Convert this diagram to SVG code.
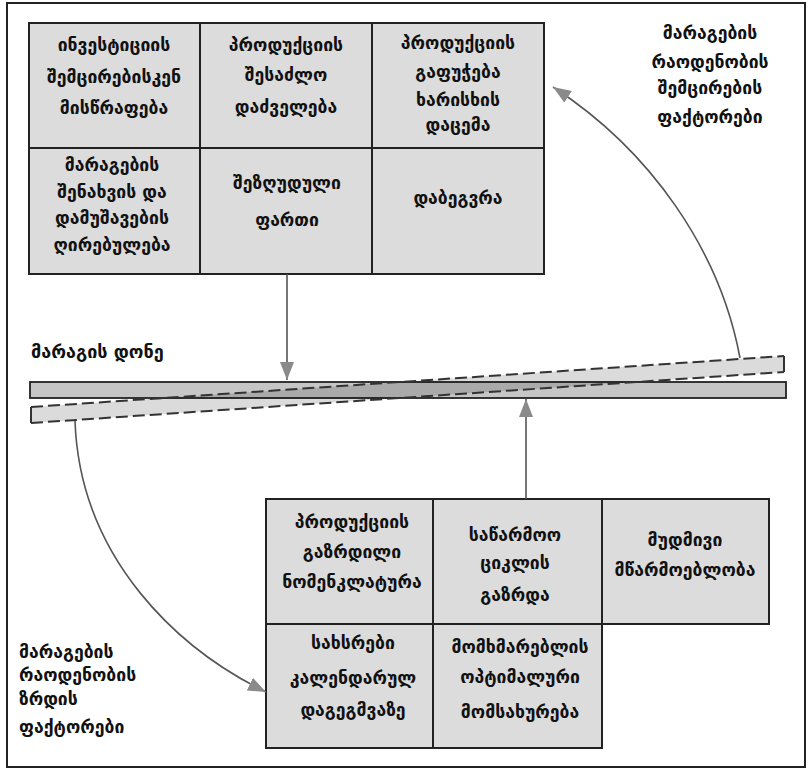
<svg xmlns="http://www.w3.org/2000/svg" width="808" height="770" viewBox="0 0 808 770">
<style>
text{font-family:"DejaVu Sans","Noto Sans",sans-serif;font-size:17.6px;font-weight:bold;fill:#111;}
.c{text-anchor:middle;}
.cell{fill:#dcdcdc;stroke:#222;stroke-width:2;}
.conn{fill:none;stroke:#555;stroke-width:1.6;}
.dash{fill:none;stroke:#333;stroke-width:2;stroke-dasharray:12 5;}
</style>
<defs>
<marker id="ah" markerUnits="userSpaceOnUse" markerWidth="20" markerHeight="16" refX="18" refY="7" orient="auto">
<path d="M0,0 L18,7 L0,14 Z" fill="#8a8a8a"/>
</marker>
</defs>
<rect x="7" y="3" width="798" height="764" fill="#fff" stroke="#222" stroke-width="2"/>

<g id="top-grid">
<g id="n1"><rect class="cell" x="29" y="23" width="171" height="125"/>
<text class="c" x="114" y="51">ინვესტიციის</text><text class="c" x="114" y="83">შემცირებისკენ</text><text class="c" x="114" y="114">მისწრაფება</text></g>
<g id="n2"><rect class="cell" x="200" y="23" width="172" height="125"/>
<text class="c" x="286" y="51">პროდუქციის</text><text class="c" x="286" y="81">შესაძლო</text><text class="c" x="286" y="113">დაძველება</text></g>
<g id="n3"><rect class="cell" x="372" y="23" width="172" height="125"/>
<text class="c" x="458" y="49">პროდუქციის</text><text class="c" x="458" y="78">გაფუჭება</text><text class="c" x="458" y="106">ხარისხის</text><text class="c" x="458" y="131">დაცემა</text></g>
<g id="n4"><rect class="cell" x="29" y="148" width="171" height="126"/>
<text class="c" x="112" y="171">მარაგების</text><text class="c" x="112" y="198">შენახვის და</text><text class="c" x="112" y="224">დამუშავების</text><text class="c" x="112" y="251">ღირებულება</text></g>
<g id="n5"><rect class="cell" x="200" y="148" width="172" height="126"/>
<text class="c" x="287" y="189">შეზღუდული</text><text class="c" x="287" y="226">ფართი</text></g>
<g id="n6"><rect class="cell" x="372" y="148" width="172" height="126"/>
<text class="c" x="458" y="204">დაბეგვრა</text></g>
</g>

<g id="bottom-grid">
<g id="m1"><rect class="cell" x="266" y="499" width="167" height="125"/>
<text class="c" x="352" y="528">პროდუქციის</text><text class="c" x="352" y="558">გაზრდილი</text><text class="c" x="352" y="588">ნომენკლატურა</text></g>
<g id="m2"><rect class="cell" x="433" y="499" width="169" height="125"/>
<text class="c" x="515" y="541">საწარმოო</text><text class="c" x="515" y="569">ციკლის</text><text class="c" x="515" y="601">გაზრდა</text></g>
<g id="m3"><rect class="cell" x="602" y="499" width="167" height="125"/>
<text class="c" x="685" y="546">მუდმივი</text><text class="c" x="685" y="576">მწარმოებლობა</text></g>
<g id="m4"><rect class="cell" x="266" y="624" width="167" height="124"/>
<text class="c" x="353" y="649">სახსრები</text><text class="c" x="353" y="684">კალენდარულ</text><text class="c" x="353" y="716">დაგეგმვაზე</text></g>
<g id="m5"><rect class="cell" x="433" y="624" width="169" height="124"/>
<text class="c" x="520" y="653">მომხმარებლის</text><text class="c" x="520" y="683">ოპტიმალური</text><text class="c" x="520" y="718">მომსახურება</text></g>
</g>

<g id="level">
<text x="31" y="358" style="font-size:18px">მარაგის დონე</text>
<rect x="30" y="382" width="756" height="16" fill="#c6c6c6" stroke="#222" stroke-width="1.8"/>
<polygon points="31,407 784,356 784,372 31,423" fill="#000" fill-opacity="0.14"/>
<line class="dash" x1="31" y1="407" x2="784" y2="356"/>
<line class="dash" x1="31" y1="423" x2="784" y2="372"/>
<line x1="31" y1="407" x2="31" y2="423" stroke="#333" stroke-width="2"/>
<line x1="784" y1="356" x2="784" y2="372" stroke="#333" stroke-width="2"/>
</g>

<g id="labels">
<g id="lab-decrease">
<text class="c" x="710" y="39">მარაგების</text><text class="c" x="710" y="68">რაოდენობის</text><text class="c" x="710" y="94">შემცირების</text><text class="c" x="710" y="123">ფაქტორები</text>
</g>
<g id="lab-increase">
<text x="19" y="658">მარაგების</text><text x="19" y="681">რაოდენობის</text><text x="19" y="705">ზრდის</text><text x="19" y="733">ფაქტორები</text>
</g>
</g>

<g id="connectors">
<path class="conn" d="M287,274 L287,380" marker-end="url(#ah)"/>
<path class="conn" d="M526,499 L526,399" marker-end="url(#ah)"/>
<path class="conn" d="M740,358 C720,250 650,150 553,87" marker-end="url(#ah)"/>
<path class="conn" d="M75,421 C80,560 180,650 266,692" marker-end="url(#ah)"/>
</g>
</svg>
